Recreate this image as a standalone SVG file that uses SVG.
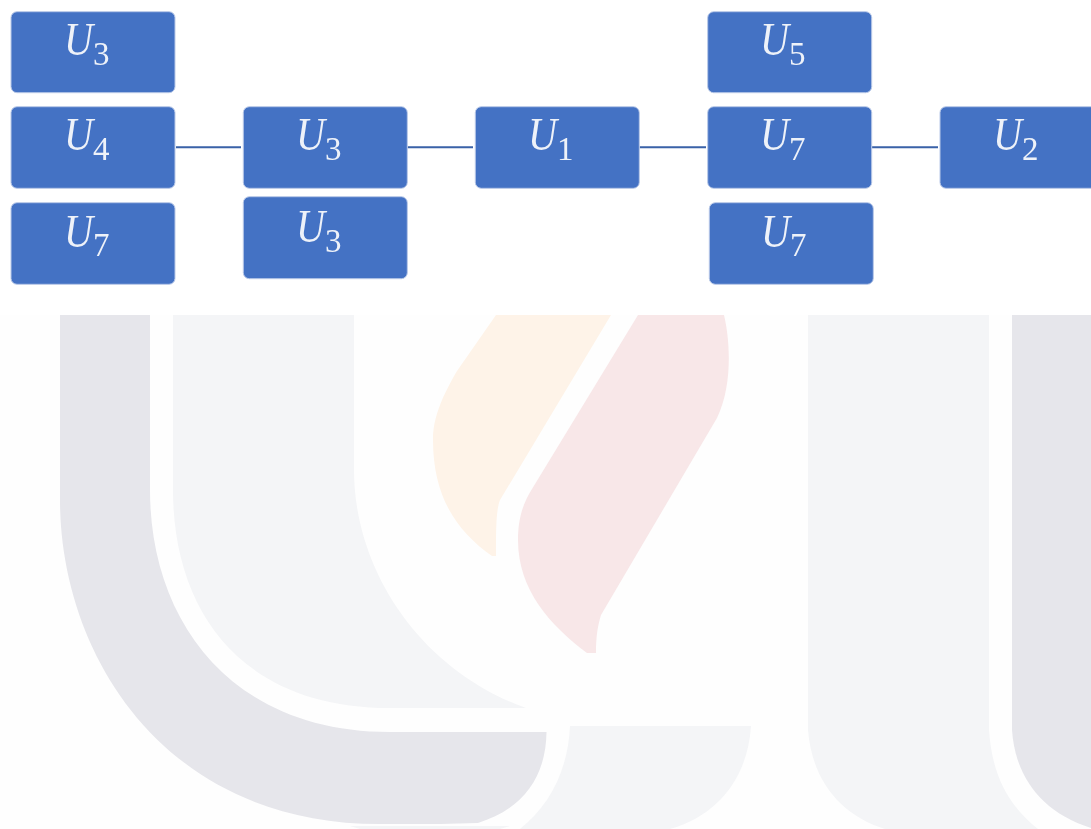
<svg xmlns="http://www.w3.org/2000/svg" width="1091" height="829" viewBox="0 0 1091 829">
<style>
.n{fill:#4472c4;stroke:#b9c9e8;stroke-width:1}
.u{font-family:"Liberation Serif",serif;font-style:italic;font-size:47px;fill:#eef2f9;filter:url(#soft)}
.s{font-family:"Liberation Serif",serif;font-size:33px;fill:#eef2f9;filter:url(#soft)}
.c{stroke:#3a62a8;stroke-width:2;fill:none}
.d{fill:#e6e6eb}.l{fill:#f4f5f7}.o{fill:#fef3e8}.r{fill:#f8e7e8}
</style>
<defs><filter id="soft" x="-20%" y="-20%" width="140%" height="140%"><feGaussianBlur stdDeviation="0.5"/></filter></defs>
<rect x="0" y="315" width="1091" height="514" fill="#fefefe"/>
<g id="watermark">
<path class="l" d="M350 826H510L500 829H360Z"/>
<path class="d" d="M60 315H150V490C150 620 230 732 390 732H546.500C546 780 520 810 478 823L440 824H380C160 824 60 650 60 500Z"/>
<path class="l" d="M173 315H354V470C354 570 420 670 526 708H390C240 708 173 610 173 490Z"/>
<path class="l" d="M570 726H751C748 775 720 815 670 829H520C550 805 568 770 570 726Z"/>
<path class="l" d="M808 315H989V730C992 775 1008 805 1038 829H885C840 815 812 780 808 730Z"/>
<path class="d" d="M1012 315H1091V828C1040 812 1015 775 1012 730Z"/>
<path class="o" d="M496 315H611L500 500C496 510 496 530 496 556H492C455 530 433 495 433 440C433 420 440 400 457 371Z"/>
<path class="r" d="M638 315H724C730 340 733 385 717 418L601 615C598 625 596 635 596 653H587C550 625 518 590 518 540C518 515 525 500 532 489Z"/>
</g>
<g id="connectors">
<path class="c" d="M176 147.300H241M407.500 147.300H473M639.500 147.300H706M872 147.300H938"/>
</g>
<g id="n1"><rect class="n" x="11" y="11.700" width="164" height="81" rx="6"/><text class="u" textLength="29" lengthAdjust="spacingAndGlyphs" x="64" y="55">U</text><text class="s" x="93" y="65">3</text></g>
<g id="n2"><rect class="n" x="11" y="106.700" width="164" height="81.600" rx="6"/><text class="u" textLength="29" lengthAdjust="spacingAndGlyphs" x="64" y="150">U</text><text class="s" x="93" y="160">4</text></g>
<g id="n3"><rect class="n" x="11" y="202.700" width="164" height="81.600" rx="6"/><text class="u" textLength="29" lengthAdjust="spacingAndGlyphs" x="64" y="247">U</text><text class="s" x="93" y="256">7</text></g>
<g id="n4"><rect class="n" x="243.300" y="106.700" width="164" height="81.600" rx="6"/><text class="u" textLength="29" lengthAdjust="spacingAndGlyphs" x="296" y="150">U</text><text class="s" x="325" y="160">3</text></g>
<g id="n5"><rect class="n" x="243.300" y="196.700" width="164" height="82" rx="6"/><text class="u" textLength="29" lengthAdjust="spacingAndGlyphs" x="296" y="242">U</text><text class="s" x="325" y="252">3</text></g>
<g id="n6"><rect class="n" x="475.300" y="106.700" width="164" height="81.600" rx="6"/><text class="u" textLength="29" lengthAdjust="spacingAndGlyphs" x="528" y="150">U</text><text class="s" x="557" y="160">1</text></g>
<g id="n7"><rect class="n" x="707.700" y="11.700" width="164" height="81" rx="6"/><text class="u" textLength="29" lengthAdjust="spacingAndGlyphs" x="760" y="55">U</text><text class="s" x="789" y="65">5</text></g>
<g id="n8"><rect class="n" x="707.700" y="106.700" width="164" height="81.600" rx="6"/><text class="u" textLength="29" lengthAdjust="spacingAndGlyphs" x="760" y="150">U</text><text class="s" x="789" y="160">7</text></g>
<g id="n9"><rect class="n" x="709.300" y="202.700" width="164" height="81.600" rx="6"/><text class="u" textLength="29" lengthAdjust="spacingAndGlyphs" x="761" y="247">U</text><text class="s" x="790" y="256">7</text></g>
<g id="n10"><rect class="n" x="940" y="106.700" width="164" height="81.600" rx="6"/><text class="u" textLength="29" lengthAdjust="spacingAndGlyphs" x="993" y="150">U</text><text class="s" x="1022" y="160">2</text></g>
</svg>
